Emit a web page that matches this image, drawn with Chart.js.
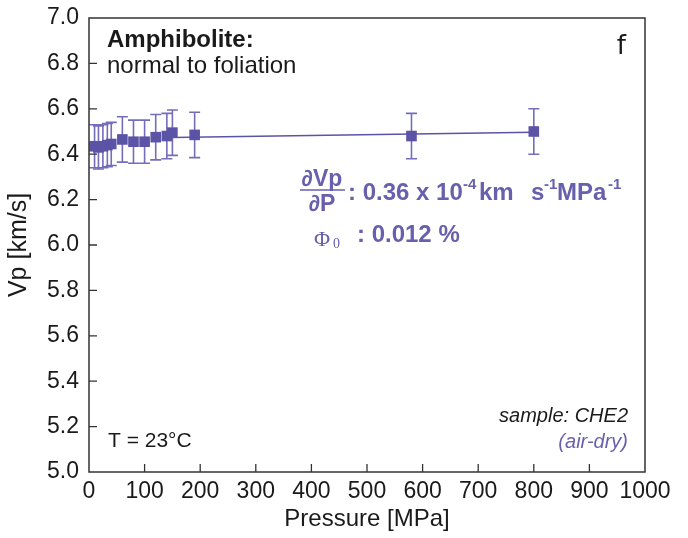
<!DOCTYPE html>
<html>
<head>
<meta charset="utf-8">
<script src="https://cdn.jsdelivr.net/npm/chart.js@4.4.1/dist/chart.umd.min.js"></script>
<style>
html,body{margin:0;padding:0;background:#fff;}
#wrap{width:688px;height:538px;position:relative;}
</style>
</head>
<body>
<div id="wrap"><canvas id="c" width="688" height="538"></canvas></div>
<script>
// Data
const pressure = [10, 17, 25, 33, 40, 60, 80, 100, 120, 140, 150, 190, 580, 800];
const vp       = [6.435, 6.43, 6.435, 6.44, 6.445, 6.465, 6.455, 6.455, 6.475, 6.48, 6.495, 6.485, 6.48, 6.50];
const vpErr    = [0.095, 0.095, 0.095, 0.095, 0.095, 0.1, 0.095, 0.095, 0.1, 0.1, 0.1, 0.1, 0.1, 0.1];
const fitP     = [150, 800];
const fitV     = [6.474, 6.497];
const xTicks   = [0, 100, 200, 300, 400, 500, 600, 700, 800, 900, 1000];
const yTicks   = [5.0, 5.2, 5.4, 5.6, 5.8, 6.0, 6.2, 6.4, 6.6, 6.8, 7.0];

const PURPLE = '#5b53a6';
const BAR = '#746dba';
const TEXTP = '#6760ac';
const FONT = '"Liberation Sans", Arial, sans-serif';

const errorBars = {
  id: 'errorBars',
  beforeDatasetsDraw(chart) {
    const ctx = chart.ctx, xs = chart.scales.x, ys = chart.scales.y;
    ctx.save();
    ctx.strokeStyle = BAR;
    ctx.lineWidth = 1.6;
    pressure.forEach((p, i) => {
      const x = xs.getPixelForValue(p);
      const yt = ys.getPixelForValue(vp[i] + vpErr[i]);
      const yb = ys.getPixelForValue(vp[i] - vpErr[i]);
      ctx.beginPath();
      ctx.moveTo(x, yt); ctx.lineTo(x, yb);
      ctx.moveTo(x - 5.5, yt); ctx.lineTo(x + 5.5, yt);
      ctx.moveTo(x - 5.5, yb); ctx.lineTo(x + 5.5, yb);
      ctx.stroke();
    });
    ctx.restore();
  }
};

const frameAndTicks = {
  id: 'frameAndTicks',
  afterDraw(chart) {
    const ctx = chart.ctx, a = chart.chartArea, xs = chart.scales.x, ys = chart.scales.y;
    ctx.save();
    ctx.strokeStyle = '#333';
    ctx.lineWidth = 1.5;
    ctx.strokeRect(a.left, a.top, a.right - a.left, a.bottom - a.top);
    ctx.lineWidth = 1.3;
    ctx.beginPath();
    xTicks.forEach(t => {
      const x = xs.getPixelForValue(t);
      if (t > 0 && t < 1000) { ctx.moveTo(x, a.bottom); ctx.lineTo(x, a.bottom - 8); }
    });
    yTicks.forEach(t => {
      const y = ys.getPixelForValue(t);
      if (t > 5.0 && t < 7.0) { ctx.moveTo(a.left, y); ctx.lineTo(a.left + 8, y); }
    });
    ctx.stroke();

    // Annotations
    ctx.textBaseline = 'alphabetic';
    ctx.fillStyle = '#1a1a1a';
    ctx.font = 'bold 24px ' + FONT;
    ctx.textAlign = 'left';
    ctx.fillText('Amphibolite:', 107, 47);
    ctx.font = '24px ' + FONT;
    ctx.fillText('normal to foliation', 107, 73);
    ctx.font = '26px "DejaVu Sans", sans-serif';
    ctx.textAlign = 'right';
    ctx.fillText('f', 626, 54);
    ctx.font = '21px ' + FONT;
    ctx.textAlign = 'left';
    ctx.fillText('T = 23\u00B0C', 108, 447);
    ctx.font = 'italic 20px ' + FONT;
    ctx.textAlign = 'right';
    ctx.fillText('sample: CHE2', 628, 422);
    ctx.fillStyle = TEXTP;
    ctx.fillText('(air-dry)', 628, 448);

    // Equation
    ctx.fillStyle = TEXTP;
    ctx.strokeStyle = TEXTP;
    ctx.textAlign = 'center';
    ctx.font = 'bold 23px ' + FONT;
    ctx.fillText('\u2202Vp', 322, 186);
    ctx.fillText('\u2202P', 322, 211);
    ctx.lineWidth = 1.3;
    ctx.beginPath(); ctx.moveTo(300, 190); ctx.lineTo(345, 190); ctx.stroke();
    ctx.textAlign = 'left';
    const big = 'bold 24px ' + FONT, sup = 'bold 15px ' + FONT;
    const put = (txt, font, x, y) => { ctx.font = font; ctx.fillText(txt, x, y); };
    put(': 0.36 x 10', big, 348, 200);
    put('-4', sup, 463, 189);
    put('km', big, 479, 200);
    put('s', big, 531, 200);
    put('-1', sup, 544, 189);
    put('MPa', big, 557, 200);
    put('-1', sup, 608, 189);

    put('\u03A6', '22px "Liberation Serif", serif', 314, 246);
    put('0', '14px "Liberation Serif", serif', 333, 248);
    put(': 0.012 %', big, 357, 242);
    ctx.restore();
  }
};

new Chart(document.getElementById('c'), {
  type: 'scatter',
  data: {
    datasets: [
      {
        type: 'line',
        data: fitP.map((p, i) => ({x: p, y: fitV[i]})),
        borderColor: PURPLE,
        borderWidth: 1.5,
        pointRadius: 0,
        fill: false
      },
      {
        data: pressure.map((p, i) => ({x: p, y: vp[i]})),
        pointStyle: 'rect',
        pointRadius: 7.5,
        backgroundColor: PURPLE,
        borderColor: PURPLE,
        borderWidth: 0
      }
    ]
  },
  options: {
    responsive: false,
    animation: false,
    events: [],
    layout: { padding: { left: 0, top: 18, right: 43, bottom: 0 } },
    plugins: { legend: { display: false }, tooltip: { enabled: false } },
    scales: {
      x: {
        type: 'linear', min: 0, max: 1000,
        afterFit(s) { s.height = 66; s.paddingLeft = 0; s.paddingRight = 0; },
        afterBuildTicks(s) { s.ticks = xTicks.map(v => ({value: v})); },
        grid: { display: false, drawTicks: false },
        border: { display: false },
        ticks: { color: '#1a1a1a', font: { family: FONT, size: 23 }, padding: 6, maxRotation: 0, autoSkip: false, callback: v => String(v) },
        title: { display: true, text: 'Pressure [MPa]', color: '#1a1a1a', font: { family: FONT, size: 24 }, padding: { top: 0 } }
      },
      y: {
        type: 'linear', min: 5.0, max: 7.0,
        afterFit(s) { s.width = 89; s.paddingTop = 0; s.paddingBottom = 0; },
        afterBuildTicks(s) { s.ticks = yTicks.map(v => ({value: v})); },
        grid: { display: false, drawTicks: false },
        border: { display: false },
        ticks: { color: '#1a1a1a', font: { family: FONT, size: 23 }, padding: 10, autoSkip: false, callback: v => v.toFixed(1) },
        title: { display: true, text: 'Vp [km/s]', color: '#1a1a1a', font: { family: FONT, size: 25 }, padding: { bottom: 0 } }
      }
    }
  },
  plugins: [errorBars, frameAndTicks]
});
</script>
</body>
</html>
